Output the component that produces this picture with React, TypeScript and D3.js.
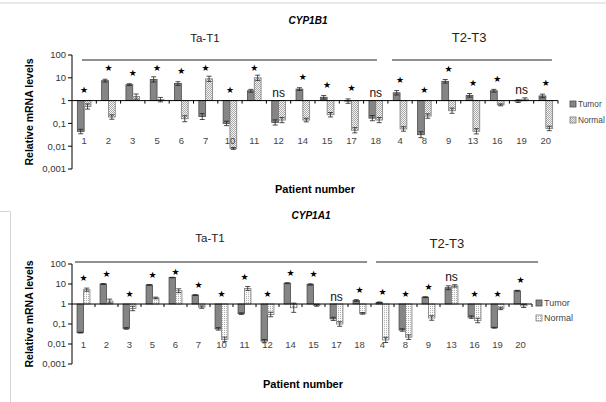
import React from "react";
import * as d3 from "d3";

// ---------- data ----------
const categories = ["1", "2", "3", "5", "6", "7", "10", "11", "12", "14", "15", "17", "18", "4", "8", "9", "13", "16", "19", "20"];
const tickValues = [100, 10, 1, 0.1, 0.01, 0.001];
const tickLabels = ["100", "10", "1", "0,1", "0,01", "0,001"];
const seriesNames = ["Tumor", "Normal"];

// CYP1B1
const b1Tumor = [0.044, 7.5, 5, 8.5, 5.6, 0.2, 0.1, 2.7, 0.11, 3.2, 1.4, 0.95, 0.17, 2.2, 0.032, 7, 1.7, 2.7, 0.95, 1.6];
const b1TumorErr = [0.25, 0.15, 0.1, 0.3, 0.2, 0.35, 0.25, 0.15, 0.3, 0.15, 0.2, 0.25, 0.3, 0.25, 0.35, 0.2, 0.2, 0.15, 0.15, 0.2];
const b1Normal = [0.55, 0.19, 1.5, 1.1, 0.16, 9, 0.008, 10, 0.14, 0.14, 0.24, 0.05, 0.14, 0.057, 0.21, 0.36, 0.045, 0.65, 1.15, 0.06];
const b1NormalErr = [0.3, 0.25, 0.3, 0.25, 0.35, 0.3, 0.1, 0.3, 0.3, 0.2, 0.25, 0.3, 0.3, 0.25, 0.25, 0.3, 0.3, 0.1, 0.15, 0.25];
const b1Sig = ["*", "*", "*", "*", "*", "*", "*", "*", "ns", "*", "*", "*", "ns", "*", "*", "*", "*", "*", "ns", "*"];

// CYP1A1
const a1Tumor = [0.037, 10, 0.06, 9, 21, 2.8, 0.057, 0.33, 0.014, 11, 9.5, 0.18, 1.5, 1.2, 0.05, 2.2, 6.5, 0.22, 0.065, 4.6];
const a1TumorErr = [0.05, 0.05, 0.1, 0.05, 0.03, 0.05, 0.15, 0.1, 0.2, 0.05, 0.08, 0.2, 0.1, 0.05, 0.15, 0.05, 0.25, 0.15, 0.05, 0.05];
const a1Normal = [5.2, 1.4, 0.6, 2, 4.6, 0.7, 0.017, 6, 0.3, 0.65, 0.85, 0.1, 0.34, 0.016, 0.022, 0.2, 8, 0.15, 0.6, 0.8];
const a1NormalErr = [0.2, 0.25, 0.3, 0.1, 0.25, 0.15, 0.3, 0.25, 0.3, 0.7, 0.1, 0.3, 0.1, 0.35, 0.3, 0.3, 0.15, 0.3, 0.15, 0.2];
const a1Sig = ["*", "*", "*", "*", "*", "*", "*", "*", "*", "*", "*", "ns", "*", "*", "*", "*", "ns", "*", "*", "*"];

const groupNames = ["Ta-T1", "T2-T3"];

// ---------- layout ----------
const panels = [
  {
    title: "CYP1B1", titleX: 308, titleY: 24,
    tumor: b1Tumor, tumorErr: b1TumorErr, normal: b1Normal, normalErr: b1NormalErr, sig: b1Sig,
    x0: 72, x1: 558, yTop: 55, yBot: 169, catLabelY: 144,
    groupLineY: 60, groups: [
      { start: 0.41, end: 12.55, label: 5.47, labelY: 42, size: 11.5 },
      { start: 13.17, end: 19.75, label: 16.34, labelY: 42, size: 13 },
    ],
    legendX: 570, legendY: [104, 120], legendFont: 8.3, xLabelX: 315, xLabelY: 193, yLabelCY: 112,
    pattern: "dotsA", starMin: 68, starOff: 11,
  },
  {
    title: "CYP1A1", titleX: 311, titleY: 219,
    tumor: a1Tumor, tumorErr: a1TumorErr, normal: a1Normal, normalErr: a1NormalErr, sig: a1Sig,
    x0: 72, x1: 532, yTop: 264, yBot: 364, catLabelY: 348,
    groupLineY: 262, groups: [
      { start: 0.13, end: 12.83, label: 6.0, labelY: 242, size: 11.5 },
      { start: 13.22, end: 20.26, label: 16.3, labelY: 248, size: 13 },
    ],
    legendX: 536, legendY: [303, 318], legendFont: 9, xLabelX: 303, xLabelY: 388, yLabelCY: 314,
    pattern: "dotsB", starMin: 272, starOff: 10,
  },
];

const font = "'Liberation Sans', Arial, sans-serif";

function Panel({ p }: { p: any }) {
  const y = d3.scaleLog().domain([0.001, 100]).range([p.yBot, p.yTop]);
  const x = d3.scaleBand().domain(categories).range([p.x0, p.x1]).paddingInner(0).paddingOuter(0);
  const bw = x.bandwidth();
  const pos = d3.scaleLinear().domain([0, categories.length]).range([p.x0, p.x1]);
  const barW = bw * 0.28;
  const y1 = y(1);

  const bar = (cx: number, v: number, e: number, kind: number, key: string) => {
    const yv = y(v);
    const top = Math.min(yv, y1);
    const h = Math.abs(yv - y1);
    const bx = kind === 0 ? cx - barW : cx;
    const mid = bx + barW / 2;
    const hi = y(v * (1 + e));
    const lo = y(v / (1 + e));
    return (
      <g key={key}>
        <rect x={bx} y={top} width={barW} height={Math.max(h, 0.5)}
          fill={kind === 0 ? "#858585" : `url(#${p.pattern})`}
          stroke={kind === 0 ? "#4a4a4a" : "#7a7a7a"} strokeWidth={0.8} />
        <line x1={mid} x2={mid} y1={hi} y2={lo} stroke="#222" strokeWidth={0.8} />
        <line x1={mid - 2.5} x2={mid + 2.5} y1={hi} y2={hi} stroke="#222" strokeWidth={0.8} />
        <line x1={mid - 2.5} x2={mid + 2.5} y1={lo} y2={lo} stroke="#222" strokeWidth={0.8} />
      </g>
    );
  };

  return (
    <g>
      <text x={p.titleX} y={p.titleY} textAnchor="middle" fontFamily={font} fontWeight="bold" fontStyle="italic" fontSize={10} fill="#000">{p.title}</text>
      {p.groups.map((g: any, i: number) => (
        <g key={"g" + i}>
          <line x1={pos(g.start)} x2={pos(g.end)} y1={p.groupLineY} y2={p.groupLineY} stroke="#222" strokeWidth={1.2} />
          <text x={pos(g.label)} y={g.labelY} textAnchor="middle" fontFamily={font} fontSize={g.size} fill="#222">{groupNames[i]}</text>
        </g>
      ))}
      {/* y axis */}
      <line x1={p.x0} x2={p.x0} y1={y(100)} y2={y(0.001)} stroke="#000" strokeWidth={1} />
      {tickValues.map((t, i) => (
        <g key={"t" + i}>
          <line x1={p.x0 - 4} x2={p.x0} y1={y(t)} y2={y(t)} stroke="#000" strokeWidth={1} />
          <text x={p.x0 - 6} y={y(t)} dy="0.35em" textAnchor="end" fontFamily={font} fontSize={9.5} fill="#333">{tickLabels[i]}</text>
        </g>
      ))}
      {/* bars */}
      {categories.map((c, i) => {
        const cx = (x(c) as number) + bw / 2;
        return (
          <g key={"c" + i}>
            {bar(cx, p.tumor[i], p.tumorErr[i], 0, "a")}
            {bar(cx, p.normal[i], p.normalErr[i], 1, "b")}
          </g>
        );
      })}
      {/* x axis */}
      <line x1={p.x0} x2={p.x1} y1={y1} y2={y1} stroke="#000" strokeWidth={1} />
      {d3.range(1, categories.length + 1).map((i) => (
        <line key={"xt" + i} x1={pos(i)} x2={pos(i)} y1={y1} y2={y1 + 3} stroke="#000" strokeWidth={1} />
      ))}
      {categories.map((c, i) => (
        <text key={"cl" + i} x={(x(c) as number) + bw / 2} y={p.catLabelY} textAnchor="middle" fontFamily={font} fontSize={9.5} fill="#444">{c}</text>
      ))}
      {/* significance */}
      {categories.map((c, i) => {
        const cx = (x(c) as number) + bw / 2;
        const mx = Math.max(p.tumor[i] * (1 + p.tumorErr[i]), p.normal[i] * (1 + p.normalErr[i]), 1);
        const ym = y(mx);
        if (p.sig[i] === "ns") {
          return <text key={"s" + i} x={cx} y={ym - 3.5} textAnchor="middle" fontFamily={font} fontSize={12} fill="#111">ns</text>;
        }
        const sy = Math.max(ym - p.starOff, p.starMin);
        return <text key={"s" + i} x={cx} y={sy} dy="0.35em" textAnchor="middle" fontFamily="'DejaVu Sans', sans-serif" fontSize={9} fill="#000">★</text>;
      })}
      {/* legend */}
      {seriesNames.map((s, i) => (
        <g key={"l" + i}>
          <rect x={p.legendX} y={p.legendY[i] - 3} width={6} height={6}
            fill={i === 0 ? "#858585" : `url(#${p.pattern})`} stroke={i === 0 ? "#4a4a4a" : "#7a7a7a"} strokeWidth={0.8} />
          <text x={p.legendX + 8} y={p.legendY[i]} dy="0.35em" fontFamily={font} fontSize={p.legendFont} fill="#444">{s}</text>
        </g>
      ))}
      {/* axis titles */}
      <text x={p.xLabelX} y={p.xLabelY} textAnchor="middle" fontFamily={font} fontWeight="bold" fontSize={11} fill="#000">Patient number</text>
      <text transform={`translate(33,${p.yLabelCY}) rotate(-90)`} textAnchor="middle" fontFamily={font} fontWeight="bold" fontSize={10.5} fill="#000">Relative mRNA levels</text>
    </g>
  );
}

export default function App() {
  return (
    <svg width={606} height={402} style={{ position: "absolute", left: 0, top: 0, background: "#fff" }}>
      <defs>
        <pattern id="dotsA" width={2} height={2} patternUnits="userSpaceOnUse">
          <rect width={2} height={2} fill="#f4f4f4" />
          <rect width={1} height={1} fill="#a8a8a8" />
          <rect x={1} y={1} width={1} height={1} fill="#a8a8a8" />
        </pattern>
        <pattern id="dotsB" width={2} height={2} patternUnits="userSpaceOnUse">
          <rect width={2} height={2} fill="#fafafa" />
          <rect width={1} height={1} fill="#b0b0b0" />
        </pattern>
      </defs>
      <rect width={606} height={402} fill="#fff" />
      <line x1={0} x2={606} y1={3} y2={3} stroke="#d4d4d4" strokeWidth={1} />
      <line x1={0} x2={10} y1={211.5} y2={211.5} stroke="#d4d4d4" strokeWidth={1} />
      <line x1={10.5} x2={10.5} y1={211.5} y2={402} stroke="#d4d4d4" strokeWidth={1} />
      {panels.map((p, i) => <Panel key={i} p={p} />)}
    </svg>
  );
}
